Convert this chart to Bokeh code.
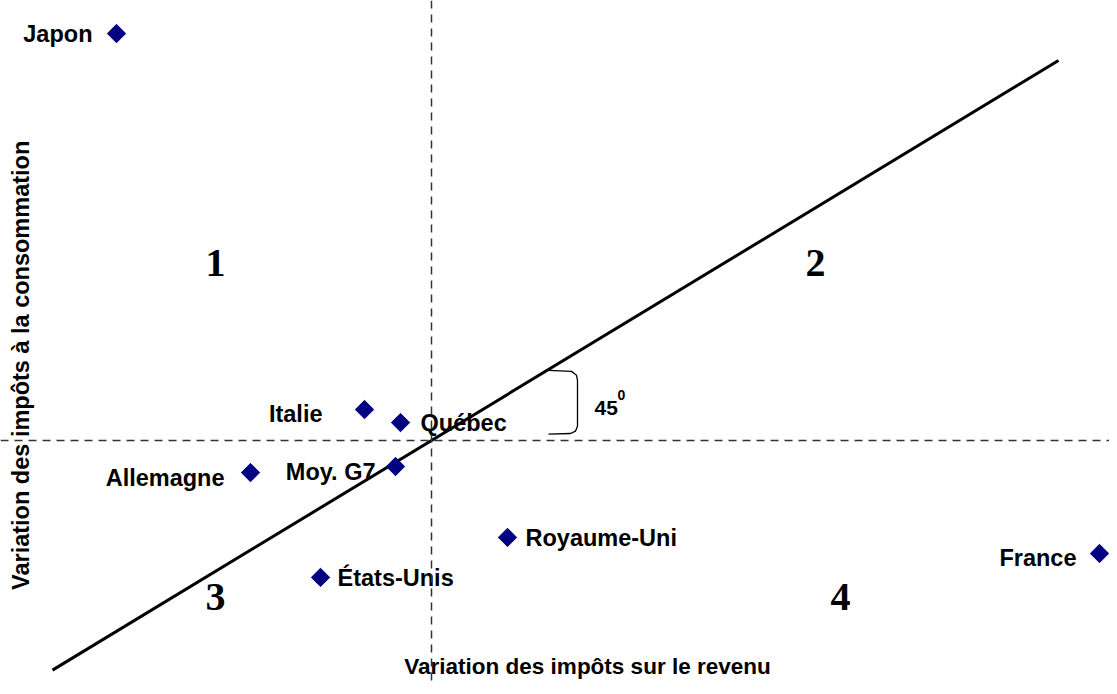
import math
from bokeh.plotting import figure
from bokeh.models import ColumnDataSource, Range1d, Span
from bokeh.core.properties import value
from bokeh.embed import file_html
from bokeh.resources import INLINE

# ---- data (x = income-tax change, y = consumption-tax change)
countries = ["Japon", "Italie", "Québec", "Moy. G7", "Allemagne", "Royaume-Uni", "États-Unis", "France"]
x_income = [-6.30, -1.34, -0.62, -0.72, -3.62, 1.52, -2.22, 13.36]
y_consumption = [13.43, 1.02, 0.59, -0.86, -1.06, -3.20, -4.52, -3.73]

# 45-degree reference line extent
line_x = [-7.58, 12.54]
line_y = [-7.58, 12.54]

quadrants = ["1", "2", "3", "4"]

x_title = "Variation des impôts sur le revenu"
y_title = "Variation des impôts à la consommation"
angle_label = "45"

# ---- label placement (screen offsets) kept apart from the data
label_dx = [-24, -42, 20, -20, -26, 18, 17, -23]
label_dy = [0, 4, 0, 5, 5, 1, 1, 5]
label_align = ["right", "right", "left", "right", "right", "left", "left", "right"]

quad_x = [-4.32, 7.68, -4.32, 8.18]
quad_y = [5.87, 5.87, -5.15, -5.15]

FONT = value("Liberation Sans")
SERIF = value("Liberation Serif")
NAVY = "#000080"

p = figure(width=1109, height=686, output_backend="svg", toolbar_location=None,
           x_range=Range1d(-8.62, 13.56), y_range=Range1d(-8.12, 14.52),
           min_border=0, x_axis_location=None, y_axis_location=None)
p.grid.visible = False
p.outline_line_color = None
p.background_fill_color = "white"
p.border_fill_color = "white"

# dashed zero axes
p.add_layout(Span(location=0, dimension="height", line_color="#333333",
                  line_width=1.5, line_dash="8 6"))
p.add_layout(Span(location=0, dimension="width", line_color="#333333",
                  line_width=1.5, line_dash="8 6"))

# 45° line
p.line(line_x, line_y, line_color="black", line_width=3)

# bracket showing the 45° angle
bx0, bx1 = 2.34, 2.92
ytop, ybot = 2.31, 0.21
bracket_x = [bx0, bx1 - 0.12, bx1 - 0.02, bx1, bx1, bx1 - 0.04, bx1 - 0.14, bx0]
bracket_y = [ytop, ytop - 0.03, ytop - 0.16, ytop - 0.33, ybot + 0.26, ybot + 0.10, ybot + 0.02, ybot]
p.line(bracket_x, bracket_y, line_color="black", line_width=1.3)
p.text(x=[3.26], y=[1.08], text=[angle_label], text_font=FONT, text_font_style="bold",
       text_font_size="21px", text_align="left", text_baseline="alphabetic", text_color="black")
p.text(x=[3.72], y=[1.50], text=["0"], text_font=FONT, text_font_style="bold",
       text_font_size="14px", text_align="left", text_baseline="alphabetic", text_color="black")

# points
src = ColumnDataSource(dict(x=x_income, y=y_consumption, name=countries,
                            dx=label_dx, dy=label_dy, align=label_align))
p.scatter("x", "y", source=src, marker="square", angle=math.pi / 4, size=13,
          fill_color=NAVY, line_color=NAVY)
p.text("x", "y", text="name", source=src, x_offset="dx", y_offset="dy",
       text_align="align", text_baseline="middle", text_font=FONT,
       text_font_style="bold", text_font_size="23.5px", text_color="black")

# quadrant numbers
p.text(x=quad_x, y=quad_y, text=quadrants, text_font=SERIF, text_font_style="bold",
       text_font_size="40px", text_align="center", text_baseline="middle", text_color="black")

# axis titles drawn inside the plot
p.text(x=[3.12], y=[-7.46], text=[x_title], text_font=FONT, text_font_style="bold",
       text_font_size="22.5px", text_align="center", text_baseline="middle", text_color="black")
p.text(x=[-8.22], y=[2.48], text=[y_title], text_font=FONT, text_font_style="bold",
       text_font_size="23.5px", text_align="center", text_baseline="middle", text_color="black",
       angle=math.pi / 2)

open("out.html", "w").write(file_html(p, INLINE))
